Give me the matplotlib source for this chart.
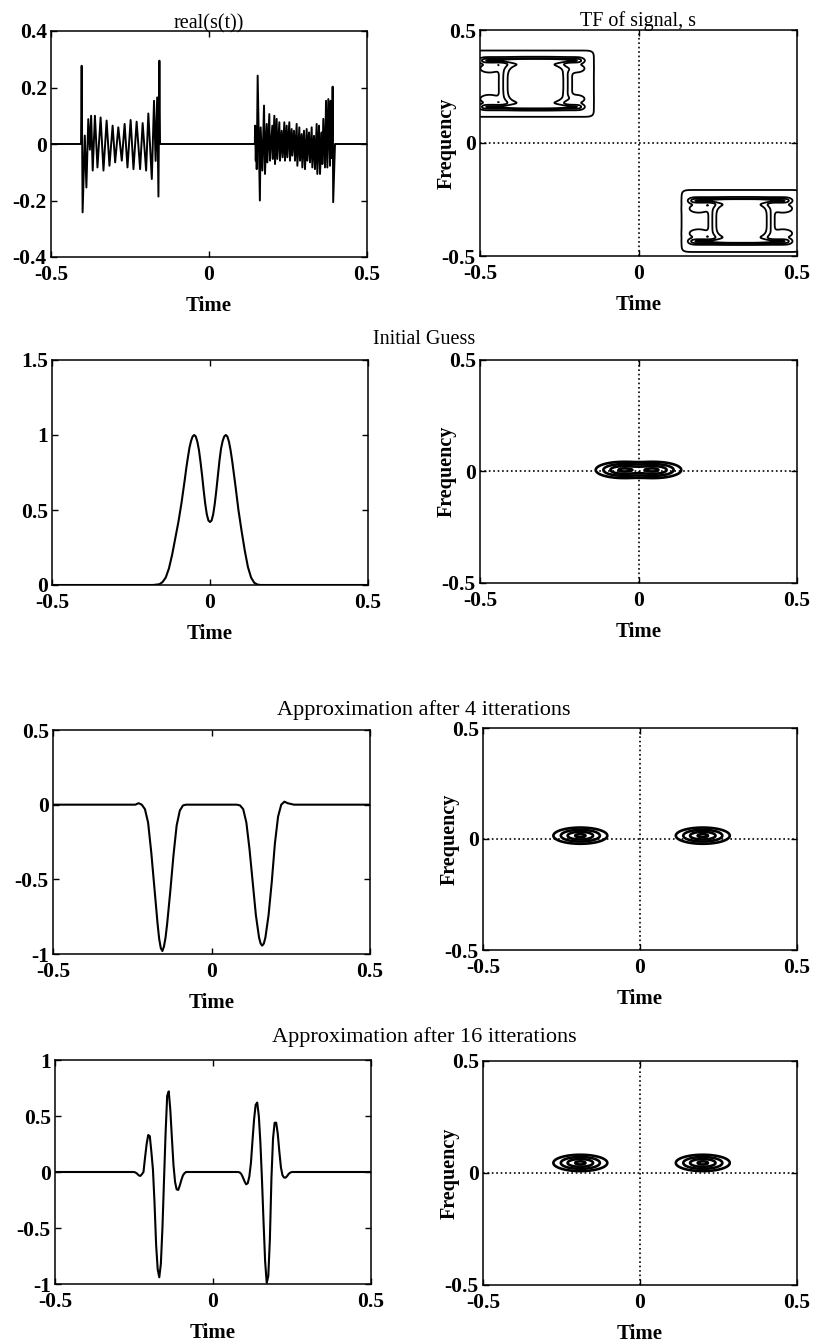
import numpy as np
import matplotlib
matplotlib.use('Agg')
import matplotlib.pyplot as plt

plt.rcParams['font.family'] = ['Liberation Serif', 'DejaVu Serif']
plt.rcParams['axes.linewidth'] = 1.1

# real part of the two-component test signal (peak/trough samples)
burst1_t = [-0.5, -0.405, -0.403, -0.400, -0.393, -0.388, -0.382, -0.377, -0.373, -0.368,
            -0.361, -0.353, -0.343, -0.334, -0.324, -0.315, -0.305, -0.297, -0.287, -0.276,
            -0.267, -0.258, -0.248, -0.239, -0.229, -0.218, -0.210, -0.199, -0.192, -0.181,
            -0.174, -0.169, -0.164, -0.160, -0.157, -0.155]
burst1_v = [0, 0, 0.277, -0.242, 0.03, -0.154, 0.088, -0.02, 0.10, -0.094,
            0.10, -0.083, 0.094, -0.094, 0.083, -0.077, 0.065, -0.065, 0.059, -0.059,
            0.071, -0.083, 0.085, -0.089, 0.079, -0.089, 0.074, -0.094, 0.108, -0.124,
            0.153, -0.06, 0.165, -0.186, 0.295, 0]
burst2_t = [0.145, 0.146, 0.148, 0.150, 0.151, 0.154, 0.161, 0.1635, 0.1688, 0.1741,
            0.1772, 0.1825, 0.1846, 0.1909, 0.1930, 0.2004, 0.2020, 0.2068, 0.2089, 0.2141,
            0.2162, 0.2226, 0.2247, 0.2300, 0.2331, 0.2384, 0.2405, 0.2458, 0.2479, 0.2542,
            0.2563, 0.2616, 0.2637, 0.2690, 0.2722, 0.2774, 0.2796, 0.2859, 0.2880, 0.2932,
            0.2954, 0.3006, 0.3038, 0.3091, 0.3112, 0.3165, 0.3196, 0.3249, 0.3270, 0.3323,
            0.3354, 0.3407, 0.3428, 0.3481, 0.3513, 0.3565, 0.3586, 0.3618, 0.3671, 0.3703,
            0.3745, 0.3776, 0.3829, 0.3850, 0.3890, 0.3913, 0.3930, 0.3987, 0.5]
burst2_v = [0, 0.065, -0.059, 0.03, -0.089, 0.242, -0.2, 0.059, -0.094, 0.136,
            -0.106, 0.071, -0.065, 0.106, -0.059, 0.065, -0.053, 0.10, -0.071, 0.089,
            -0.053, 0.077, -0.059, 0.047, -0.047, 0.077, -0.059, 0.065, -0.047, 0.077,
            -0.059, 0.053, -0.041, 0.047, -0.059, 0.071, -0.077, 0.059, -0.059, 0.035,
            -0.083, 0.047, -0.089, 0.053, -0.059, 0.041, -0.065, 0.059, -0.083, 0.029,
            -0.089, 0.071, -0.106, 0.065, -0.106, 0.041, -0.071, 0.089, -0.083, 0.153,
            -0.083, 0.159, -0.077, 0.153, -0.05, 0.203, -0.206, 0, 0]

# initial guess
guess_t = [-0.5, -0.20, -0.18, -0.16, -0.15, -0.14, -0.13, -0.12, -0.11, -0.10,
           -0.095, -0.09, -0.085, -0.08, -0.075, -0.07, -0.065, -0.06, -0.055, -0.05,
           -0.045, -0.04, -0.035, -0.03, -0.025, -0.02, -0.015, -0.01, -0.005, 0.0,
           0.005, 0.01, 0.015, 0.02, 0.025, 0.03, 0.035, 0.04, 0.045, 0.05,
           0.055, 0.06, 0.065, 0.07, 0.075, 0.08, 0.085, 0.09, 0.095, 0.10,
           0.11, 0.12, 0.13, 0.14, 0.15, 0.16, 0.20, 0.5]
guess_v = [0, 0, 0, 0.005, 0.02, 0.05, 0.11, 0.2, 0.31, 0.42,
           0.485, 0.55, 0.625, 0.70, 0.78, 0.85, 0.915, 0.96, 0.99, 1.0,
           0.99, 0.955, 0.9, 0.82, 0.73, 0.63, 0.54, 0.47, 0.43, 0.42,
           0.43, 0.47, 0.54, 0.63, 0.73, 0.83, 0.91, 0.96, 0.99, 1.0,
           0.99, 0.955, 0.9, 0.83, 0.75, 0.67, 0.585, 0.5, 0.43, 0.36,
           0.23, 0.12, 0.05, 0.015, 0.003, 0, 0, 0]

# after 4 iterations
approx4_t = [-0.5, -0.24, -0.23, -0.22, -0.21, -0.20, -0.19, -0.18, -0.17, -0.165,
             -0.16, -0.155, -0.15, -0.145, -0.14, -0.13, -0.12, -0.11, -0.10, -0.09, -0.08,
             0.08, 0.09, 0.10, 0.11, 0.12, 0.13, 0.14, 0.15, 0.155, 0.16, 0.165, 0.17,
             0.18, 0.19, 0.20, 0.21, 0.22, 0.23, 0.24, 0.26, 0.5]
approx4_v = [0, 0, 0.01, 0.0, -0.03, -0.12, -0.32, -0.56, -0.80, -0.90,
             -0.96, -0.98, -0.95, -0.89, -0.80, -0.58, -0.34, -0.14, -0.04, -0.005, 0,
             0, -0.005, -0.03, -0.12, -0.30, -0.52, -0.74, -0.89, -0.93, -0.944, -0.93, -0.89,
             -0.74, -0.52, -0.26, -0.08, 0.0, 0.02, 0.01, 0, 0]

# after 16 iterations
approx16_t = [-0.5, -0.26, -0.25, -0.245, -0.24, -0.235, -0.23, -0.225, -0.22, -0.215,
              -0.21, -0.205, -0.20, -0.195, -0.19, -0.185, -0.18, -0.175, -0.17, -0.165,
              -0.16, -0.155, -0.15, -0.145, -0.14, -0.135, -0.13, -0.125, -0.12, -0.115,
              -0.11, -0.105, -0.10, -0.095, -0.09, -0.085,
              0.08, 0.085, 0.09, 0.095, 0.10, 0.105, 0.11, 0.115, 0.12, 0.125,
              0.13, 0.135, 0.14, 0.145, 0.15, 0.155, 0.16, 0.165, 0.17, 0.175,
              0.18, 0.185, 0.19, 0.195, 0.20, 0.205, 0.21, 0.215, 0.22, 0.225,
              0.23, 0.235, 0.24, 0.245, 0.25, 0.5]
approx16_v = [0, 0, 0, -0.005, -0.015, -0.03, -0.035, -0.02, 0.0, 0.13,
              0.25, 0.33, 0.32, 0.18, 0.02, -0.28, -0.65, -0.87, -0.94, -0.82,
              -0.5, -0.07, 0.35, 0.68, 0.72, 0.55, 0.3, 0.06, -0.09, -0.155,
              -0.16, -0.12, -0.07, -0.03, -0.01, 0,
              0, -0.005, -0.02, -0.05, -0.085, -0.11, -0.10, -0.04, 0.08, 0.28,
              0.47, 0.6, 0.62, 0.5, 0.26, -0.07, -0.45, -0.8, -0.99, -0.93,
              -0.6, -0.05, 0.3, 0.44, 0.44, 0.34, 0.18, 0.04, -0.03, -0.05,
              -0.05, -0.035, -0.015, -0.005, 0, 0]

# time-frequency components of s: time span, frequency span, ridge lines, core block
tf_t_span = [(-0.52, -0.145), (0.14, 0.51)]
tf_f_span = [(0.12, 0.405), (-0.478, -0.212)]
tf_ridges = [(0.16, 0.365), (-0.435, -0.255)]
tf_core_t = [(-0.43, -0.22), (0.23, 0.42)]

# atoms of the approximations: time centres, frequency centre
atom_t = [[-0.05, 0.05], [-0.19, 0.20], [-0.19, 0.20]]
atom_f = [0.007, 0.015, 0.045]
atom_spread = (0.04, 0.017)

W, H = 816, 1343
fig = plt.figure(figsize=(W / 100, H / 100), dpi=100)


def px_axes(x0, y0, x1, y1):
    return fig.add_axes([x0 / W, 1 - y1 / H, (x1 - x0) / W, (y1 - y0) / H])


def style(ax, xt, yt, freq=False):
    ax.set_xlim(-0.5, 0.5)
    ax.set_ylim(yt[0], yt[-1])
    ax.set_xticks(xt, [f'{v:g}' for v in xt], fontweight='bold')
    ax.set_yticks(yt, [f'{v:g}' for v in yt], fontweight='bold')
    ax.tick_params(direction='in', top=True, right=True, length=4, width=1,
                   labelsize=15.5, pad=3)
    ax.tick_params(axis='x', pad=6)
    ax.set_xlabel('Time', fontsize=15, fontweight='bold', labelpad=8)
    if freq:
        ax.set_ylabel('Frequency', fontsize=14.5, fontweight='bold')
        ax.yaxis.set_label_coords(-0.075, 0.5)
        ax.axhline(0, color='k', ls=':', lw=1.2, zorder=1)
        ax.axvline(0, color='k', ls=':', lw=1.2, zorder=1)


def box(x, a, b, w):
    return 0.5 * (np.tanh((x - a) / w) - np.tanh((x - b) / w))


tt = np.linspace(-0.5, 0.5, 600)
ff = np.linspace(-0.5, 0.5, 600)
T, F = np.meshgrid(tt, ff)

xt = [-0.5, 0, 0.5]
ft = [-0.5, 0, 0.5]

# row 1: the signal and its distribution
ax = px_axes(51, 31, 367, 257)
ax.plot(burst1_t + burst2_t, burst1_v + burst2_v, color='k', lw=1.4)
style(ax, xt, [-0.4, -0.2, 0, 0.2, 0.4])
ax.set_title('real(s(t))', fontsize=14.5, pad=2)

ax = px_axes(480, 30, 797, 256)
Z = np.zeros_like(T)
for k in range(2):
    t0, t1 = tf_t_span[k]
    lo, hi = tf_ridges[k]
    ridge = sum(np.exp(-((F - r) / 0.011) ** 2) for r in tf_ridges[k])
    tc, a = np.mean(tf_core_t[k]), np.ptp(tf_core_t[k]) / 2
    fc, b = (lo + hi) / 2, (hi - lo) / 2
    r4 = ((T - tc) / a) ** 4 + ((F - fc) / b) ** 4
    ears = 0
    for ec in (t0 + 0.05, t1 - 0.055):
        for ef in (lo + 0.035, hi - 0.035):
            ears = ears + np.exp(-0.5 * (((T - ec) / 0.02) ** 2 + ((F - ef) / 0.012) ** 2))
    Z += 0.3 * box(T, t0, t1, 0.012) * box(F, *tf_f_span[k], 0.012) \
        + 0.6 * box(T, t0 + 0.025, t1 - 0.035, 0.012) * ridge \
        + 0.7 * np.exp(-r4 ** 2) + 0.25 * ears
ax.contour(T, F, Z, levels=[0.1, 0.38, 0.62, 0.85], colors='k', linewidths=1.3)
style(ax, xt, ft, freq=True)
ax.set_title('TF of signal, s', fontsize=14.5, pad=3)

# rows 2-4: iterates and their distributions
curves = [(guess_t, guess_v, [0, 0.5, 1, 1.5]),
          (approx4_t, approx4_v, [-1, -0.5, 0, 0.5]),
          (approx16_t, approx16_v, [-1, -0.5, 0, 0.5, 1])]
left_px = [(52, 360, 368, 585), (53, 730, 370, 954), (55, 1060, 371, 1284)]
right_px = [(480, 360, 797, 583), (483, 728, 797, 950), (483, 1061, 797, 1285)]
row_titles = ['Initial Guess', 'Approximation after 4 itterations',
              'Approximation after 16 itterations']
title_y = [340, 710, 1037]
title_size = [14.5, 16, 16]

st, sf = atom_spread
for i, (ct, cv, yt) in enumerate(curves):
    ax = px_axes(*left_px[i])
    ax.plot(ct, cv, color='k', lw=1.5)
    style(ax, xt, yt)

    ax = px_axes(*right_px[i])
    Z = sum(np.exp(-0.5 * (((T - c) / st) ** 2 + ((F - atom_f[i]) / sf) ** 2))
            for c in atom_t[i])
    Z = Z / Z.max()
    ax.contour(T, F, Z, levels=[0.1, 0.3, 0.6, 0.92], colors='k', linewidths=1.9)
    style(ax, xt, ft, freq=True)

    fig.text(424 / W, 1 - title_y[i] / H, row_titles[i], ha='center', va='center',
             fontsize=title_size[i])

fig.savefig('out.png', dpi=100)
